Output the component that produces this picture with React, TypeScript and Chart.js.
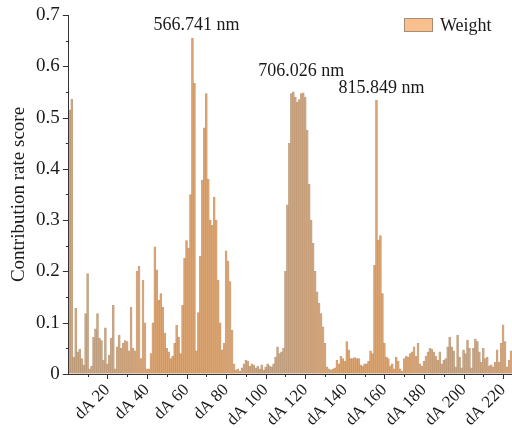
import React, { useEffect, useRef } from 'react';
import { Chart, registerables } from 'chart.js';

Chart.register(...registerables);

// Contribution rate score of each band dA 1 … dA 224
const weights: number[] = [
  0.515, 0.536, 0.033, 0.128, 0.043, 0.048, 0.03, 0.018, 0.118, 0.196,
  0.01, 0.015, 0.072, 0.088, 0.118, 0.07, 0.065, 0.027, 0.09, 0.02,
  0.037, 0.07, 0.134, 0.01, 0.053, 0.076, 0.05, 0.06, 0.065, 0.063,
  0.045, 0.13, 0.05, 0.045, 0.2, 0.21, 0.03, 0.183, 0.1, 0.01,
  0.01, 0.04, 0.1, 0.248, 0.203, 0.144, 0.157, 0.13, 0.08, 0.05,
  0.043, 0.03, 0.035, 0.06, 0.095, 0.072, 0.04, 0.134, 0.226, 0.26,
  0.245, 0.35, 0.655, 0.567, 0.045, 0.12, 0.23, 0.378, 0.48, 0.547,
  0.38, 0.3, 0.29, 0.345, 0.3, 0.183, 0.1, 0.047, 0.06, 0.24,
  0.22, 0.18, 0.085, 0.02, 0.008, 0.01, 0.005, 0.012, 0.02, 0.027,
  0.025, 0.015, 0.02, 0.018, 0.012, 0.015, 0.01, 0.018, 0.008, 0.014,
  0.02, 0.016, 0.014, 0.02, 0.033, 0.053, 0.04, 0.043, 0.05, 0.2,
  0.33, 0.45, 0.547, 0.55, 0.54, 0.53, 0.535, 0.547, 0.548, 0.54,
  0.475, 0.37, 0.3, 0.255, 0.2, 0.16, 0.138, 0.118, 0.092, 0.06,
  0.014, 0.01, 0.008, 0.01, 0.012, 0.027, 0.02, 0.035, 0.03, 0.025,
  0.063, 0.047, 0.03, 0.03, 0.032, 0.03, 0.03, 0.018, 0.015, 0.02,
  0.02, 0.025, 0.045, 0.04, 0.212, 0.534, 0.261, 0.27, 0.157, 0.06,
  0.033, 0.03, 0.016, 0.02, 0.01, 0.033, 0.025, 0.01, 0.005, 0.03,
  0.035, 0.033, 0.04, 0.043, 0.053, 0.035, 0.06, 0.02, 0.015, 0.025,
  0.035, 0.043, 0.05, 0.048, 0.043, 0.035, 0.027, 0.043, 0.02, 0.027,
  0.03, 0.053, 0.072, 0.053, 0.045, 0.014, 0.076, 0.033, 0.012, 0.047,
  0.04, 0.066, 0.05, 0.012, 0.05, 0.068, 0.063, 0.043, 0.023, 0.05,
  0.03, 0.033, 0.016, 0.018, 0.014, 0.023, 0.047, 0.023, 0.06, 0.096,
  0.063, 0.014, 0.027, 0.045,
];

const categories: string[] = weights.map((_, i) => `dA ${i + 1}`);
const seriesName = 'Weight';
const yAxisTitle = 'Contribution rate score';
const yMin = 0;
const yMax = 0.7;
const yMajorStep = 0.1;
const yMinorStep = 0.05;
const xMajorEvery = 20;
const xMinorEvery = 10;

// peak annotations: band number and wavelength text
const peakBands: number[] = [63, 118, 156];
const peakTexts: string[] = ['566.741 nm', '706.026 nm', '815.849 nm'];

const SERIF = '"Liberation Serif", "Times New Roman", serif';
const AXIS_COLOR = '#333333';
const TEXT_COLOR = '#1a1a1a';
const BAR_FILL = '#DAA372';
const BAR_EDGE = 'rgba(150,125,100,0.7)';
const LEGEND_FILL = '#F7C08E';
const LEGEND_EDGE = '#A88C74';

// style offsets of annotation text relative to its bar top (px)
const peakTextOffsets = [
  { dx: 4, dy: -13 },
  { dx: 0, dy: -22 },
  { dx: 5, dy: -12 },
];

const decorPlugin = {
  id: 'decor',
  afterDraw(chart: any) {
    const { ctx, chartArea, scales } = chart;
    const x = scales.x;
    const y = scales.y;
    ctx.save();
    ctx.strokeStyle = AXIS_COLOR;
    ctx.lineWidth = 1;
    // x ticks
    for (let k = xMinorEvery; k <= categories.length; k += xMinorEvery) {
      const px = Math.round(x.getPixelForValue(k - 1)) + 0.5;
      const len = k % xMajorEvery === 0 ? 5 : 3;
      ctx.beginPath();
      ctx.moveTo(px, chartArea.bottom);
      ctx.lineTo(px, chartArea.bottom + len);
      ctx.stroke();
    }
    // y ticks
    const nMinor = Math.round((yMax - yMin) / yMinorStep);
    for (let i = 0; i <= nMinor; i++) {
      const v = yMin + i * yMinorStep;
      const py = Math.round(y.getPixelForValue(v)) + 0.5;
      const major = i % Math.round(yMajorStep / yMinorStep) === 0;
      const len = major ? 6 : 3;
      ctx.beginPath();
      ctx.moveTo(chartArea.left, py);
      ctx.lineTo(chartArea.left - len, py);
      ctx.stroke();
    }
    // annotations
    ctx.fillStyle = TEXT_COLOR;
    ctx.font = `18px ${SERIF}`;
    ctx.textAlign = 'center';
    ctx.textBaseline = 'middle';
    peakBands.forEach((band, i) => {
      const bx = x.getPixelForValue(band - 1);
      const by = y.getPixelForValue(weights[band - 1]);
      const off = peakTextOffsets[i];
      ctx.fillText(peakTexts[i], bx + off.dx, by + off.dy);
    });
    // legend
    const sw = 29;
    const sh = 14;
    const sx = chartArea.right - 108;
    const sy = chartArea.top + 3;
    ctx.fillStyle = LEGEND_FILL;
    ctx.fillRect(sx, sy, sw, sh);
    ctx.strokeStyle = LEGEND_EDGE;
    ctx.strokeRect(sx + 0.5, sy + 0.5, sw - 1, sh - 1);
    ctx.fillStyle = TEXT_COLOR;
    ctx.textAlign = 'left';
    ctx.textBaseline = 'middle';
    ctx.font = `18px ${SERIF}`;
    ctx.fillText(seriesName, sx + sw + 7, sy + sh / 2 + 1);
    ctx.restore();
  },
};

export default function App() {
  const ref = useRef<HTMLCanvasElement | null>(null);
  useEffect(() => {
    if (!ref.current) return;
    const chart = new Chart(ref.current, {
      type: 'bar',
      data: {
        labels: categories,
        datasets: [
          {
            label: seriesName,
            data: weights,
            backgroundColor: BAR_FILL,
            borderColor: BAR_EDGE,
            borderWidth: 0.5,
            barPercentage: 1,
            categoryPercentage: 1,
          },
        ],
      },
      options: {
        animation: false,
        responsive: false,
        devicePixelRatio: 1,
        layout: { padding: { top: 15, right: 0, bottom: 0, left: 0 } },
        plugins: {
          legend: { display: false },
          tooltip: { enabled: false },
        },
        scales: {
          x: {
            type: 'category',
            offset: true,
            grid: {
              display: true,
              drawOnChartArea: false,
              drawTicks: true,
              tickLength: 6,
              tickColor: 'rgba(0,0,0,0)',
            },
            border: { display: true, color: AXIS_COLOR, width: 1 },
            ticks: {
              autoSkip: false,
              maxRotation: 45,
              minRotation: 45,
              padding: 0,
              color: TEXT_COLOR,
              font: { family: SERIF, size: 17 },
              callback: (_v: any, idx: number) =>
                (idx + 1) % xMajorEvery === 0 ? categories[idx] : '',
            },
            afterFit: (scale: any) => {
              scale.height = 54;
              scale.paddingLeft = 0;
              scale.paddingRight = 0;
            },
          },
          y: {
            min: yMin,
            max: yMax,
            grid: {
              display: true,
              drawOnChartArea: false,
              drawTicks: true,
              tickLength: 6,
              tickColor: 'rgba(0,0,0,0)',
            },
            border: { display: true, color: AXIS_COLOR, width: 1 },
            ticks: {
              stepSize: yMajorStep,
              padding: 3,
              color: TEXT_COLOR,
              font: { family: SERIF, size: 19 },
            },
            title: {
              display: true,
              text: yAxisTitle,
              color: TEXT_COLOR,
              font: { family: SERIF, size: 19 },
              padding: { top: 8, bottom: 0 },
            },
            afterFit: (scale: any) => {
              scale.width = 68.8;
              scale.paddingTop = 0;
              scale.paddingBottom = 0;
            },
          },
        },
      },
      plugins: [decorPlugin],
    });
    return () => chart.destroy();
  }, []);
  return (
    <div style={{ position: 'fixed', left: 0, top: 0, width: 512, height: 428, background: '#fff' }}>
      <canvas ref={ref} width={512} height={428} />
    </div>
  );
}
